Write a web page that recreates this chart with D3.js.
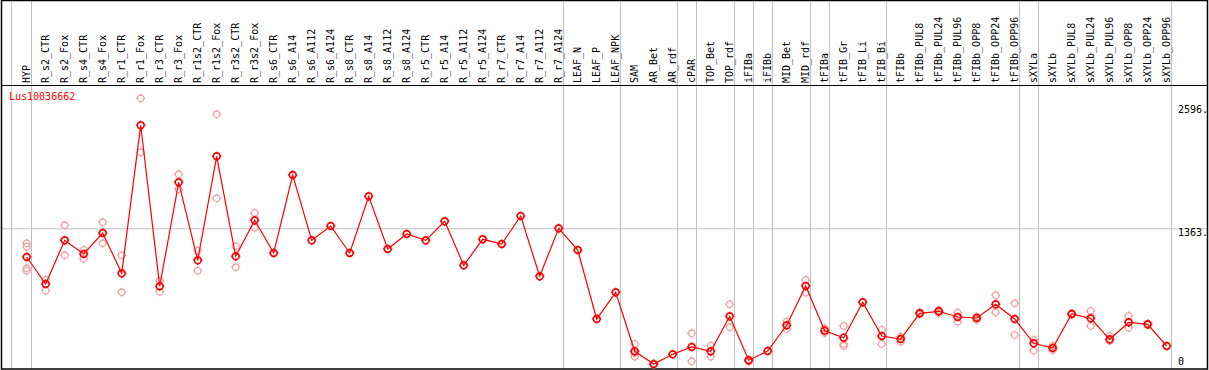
<!DOCTYPE html>
<html><head><meta charset="utf-8">
<script src="https://cdn.jsdelivr.net/npm/d3@7"></script>
<style>
html,body{margin:0;padding:0;background:#fff;}
svg{display:block;}
text{font-family:"DejaVu Sans Mono",monospace;font-size:10px;}
</style></head>
<body>
<svg id="chart" width="1209" height="370"></svg>
<script>
const categories = ["HYP","R_s2_CTR","R_s2_Fox","R_s4_CTR","R_s4_Fox","R_r1_CTR","R_r1_Fox","R_r3_CTR","R_r3_Fox","R_r1s2_CTR","R_r1s2_Fox","R_r3s2_CTR","R_r3s2_Fox","R_s6_CTR","R_s6_A14","R_s6_A112","R_s6_A124","R_s8_CTR","R_s8_A14","R_s8_A112","R_s8_A124","R_r5_CTR","R_r5_A14","R_r5_A112","R_r5_A124","R_r7_CTR","R_r7_A14","R_r7_A112","R_r7_A124","LEAF_N","LEAF_P","LEAF_NPK","SAM","AR_Bet","AR_rdf","cPAR","TOP_Bet","TOP_rdf","iFIBa","iFIBb","MID_Bet","MID_rdf","tFIBa","tFIB_Gr","tFIB_Li","tFIB_Bi","tFIBb","tFIBb_PUL8","tFIBb_PUL24","tFIBb_PUL96","tFIBb_OPP8","tFIBb_OPP24","tFIBb_OPP96","sXYLa","sXYLb","sXYLb_PUL8","sXYLb_PUL24","sXYLb_PUL96","sXYLb_OPP8","sXYLb_OPP24","sXYLb_OPP96"];
const meanValues = [1076,806,1243,1106,1316,913,2393,783,1823,1043,2083,1083,1443,1116,1896,1243,1386,1116,1683,1156,1306,1243,1433,993,1253,1206,1486,883,1363,1146,456,723,133,5,103,176,133,483,43,136,393,786,339,269,623,286,256,513,533,476,466,603,456,213,166,506,463,253,423,403,186];
const replicateValues = [[1213,1179,963,939],[849,739],[1393,1093],[1146,1059],[1423,1213],[1093,723],[2663,2123],[836,729],[1903,1753],[1139,939],[2503,1663],[1183,973],[1516,1369],[],[],[],[],[],[],[],[],[],[],[],[],[],[],[],[],[],[],[],[206,113,79],[10,0],[],[313,33],[189,79],[603,373],[50,30],[],[429,356],[846,719],[363,316],[386,206,186],[],[346,206],[279,229],[523,503],[546,513],[519,429],[479,446],[693,523],[613,296],[246,139],[186,143],[513,499],[536,386],[286,236],[486,369],[410,396],[]];
const groupEndIndex = [0,28,31,34,35,37,38,39,41,42,45,52,53,60];
const yTicks = [2596,1363,0];
const gridValues = [1363];
const geneName = "Lus10036662";

const svg = d3.select("#chart");
const W = 1209, H = 370;
const x = d3.scalePoint().domain(categories).range([26.7, 1166.7]);
const y = d3.scaleLinear().domain([0, 2596]).range([364.6, 105]);

// horizontal grid
svg.selectAll("line.grid").data(gridValues).join("line")
  .attr("x1",1).attr("x2",1207)
  .attr("y1",d=>y(d)+0.5).attr("y2",d=>y(d)+0.5)
  .attr("stroke","#c0c0c0").attr("stroke-width",1);

// group separator lines
const sepX = [x(categories[0]) - 16].concat(groupEndIndex.map(i => x(categories[i]) + 4));
svg.selectAll("line.sep").data(sepX).join("line")
  .attr("x1",d=>Math.round(d)+0.5).attr("x2",d=>Math.round(d)+0.5)
  .attr("y1",0).attr("y2",369)
  .attr("stroke","#c0c0c0").attr("stroke-width",1);

// header separator and border
svg.append("line").attr("x1",1).attr("x2",1207).attr("y1",85.5).attr("y2",85.5)
  .attr("stroke","#000").attr("stroke-width",1.2);
svg.append("rect").attr("x",1.5).attr("y",0.5).attr("width",1206).attr("height",368.5)
  .attr("fill","none").attr("stroke","#000").attr("stroke-width",1.5);

// category labels
svg.selectAll("text.cat").data(categories).join("text")
  .attr("transform", d => `translate(${x(d)+3},83) rotate(-90)`)
  .attr("text-anchor","start")
  .attr("fill","#000")
  .text(d=>d);

// y axis labels
const axisG = svg.append("g");
axisG.selectAll("text").data(yTicks).join("text")
  .attr("x",1178)
  .attr("y",d => d===0 ? y(d) : y(d)+8)
  .attr("fill","#000")
  .text(d => d===0 ? "0" : d + ".");

// gene name
svg.append("text").attr("x",9).attr("y",100).attr("fill","#ff0000").text(geneName);

function markerPath(r, t){
  return `M${-r},0A${r},${r} 0 1,0 ${r},0A${r},${r} 0 1,0 ${-r},0` +
    `M0,${-r}V${-r-t}M0,${r}V${r+t}M${-r},0H${-r-t}M${r},0H${r+t}`;
}

// replicates
const reps = [];
categories.forEach((c,i)=>replicateValues[i].forEach(v=>reps.push({c, v})));
svg.selectAll("path.rep").data(reps).join("path")
  .attr("transform", d=>`translate(${x(d.c)},${y(d.v)})`)
  .attr("d", markerPath(3.3, 1.2))
  .attr("fill","none").attr("stroke","#f0a0a0").attr("stroke-width",1.3);

// mean line
const pts = categories.map((c,i)=>({c, v: meanValues[i]}));
svg.append("path").datum(pts)
  .attr("d", d3.line().x(d=>x(d.c)).y(d=>y(d.v)))
  .attr("fill","none").attr("stroke","#ff0000").attr("stroke-width",1.2);

svg.selectAll("path.mean").data(pts).join("path")
  .attr("transform", d=>`translate(${x(d.c)},${y(d.v)})`)
  .attr("d", markerPath(3.4, 1.2))
  .attr("fill","none").attr("stroke","#ff0000").attr("stroke-width",1.6);
</script>
</body></html>
